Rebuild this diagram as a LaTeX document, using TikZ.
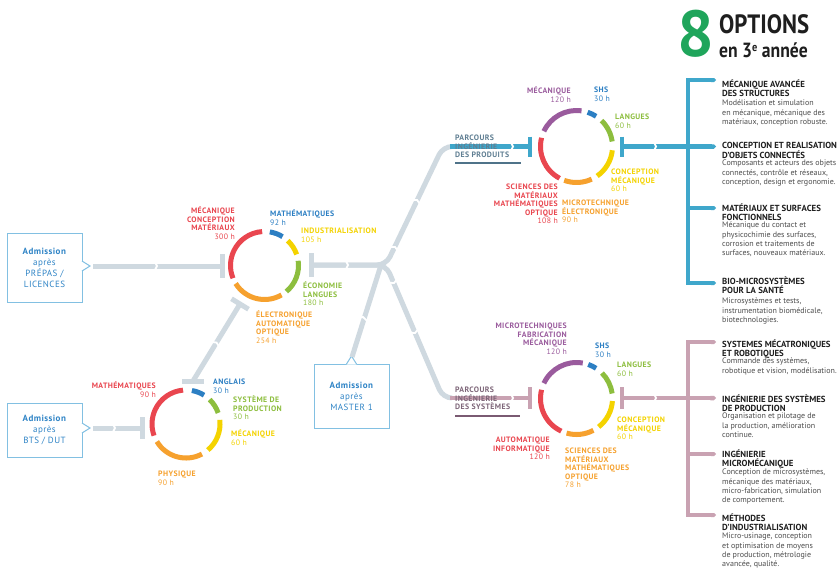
\documentclass[tikz,border=0pt]{standalone}
\usepackage{fontspec}
\setmainfont{PT Sans}
\newfontfamily\headfont[FakeStretch=0.86]{PT Sans}
\newfontfamily\labfont[LetterSpace=5]{PT Sans}
\usetikzlibrary{arrows.meta}
\definecolor{netgrey}{HTML}{CFD9E0}
\definecolor{optblue}{HTML}{3FA7CB}
\definecolor{optmauve}{HTML}{C9A2B2}
\definecolor{cred}{HTML}{E9464F}
\definecolor{corange}{HTML}{F6A12E}
\definecolor{cyellow}{HTML}{F4D300}
\definecolor{cgreen}{HTML}{8DBE3E}
\definecolor{cblue}{HTML}{2C7FC3}
\definecolor{cpurple}{HTML}{9A5B9D}
\definecolor{eightgreen}{HTML}{1FA55B}
\definecolor{admblue}{HTML}{2F84C6}
\definecolor{admborder}{HTML}{82C0E2}
\definecolor{parcblue}{HTML}{5F7E92}
\definecolor{parcmauve}{HTML}{7E6679}
\definecolor{ulblue}{HTML}{4F7389}
\definecolor{ulmauve}{HTML}{7A5A72}
\definecolor{titleblack}{HTML}{1E1E1E}
\definecolor{bodygrey}{HTML}{4D4D4D}
\newcommand\ringseg[5]{\draw[ring,#5] ([shift={({-(#2)}:#4)}]#1) arc[start angle={-(#2)}, end angle={-(#3)}, radius=#4];}
\newcommand\gapcut[2]{\begin{scope}[shift={#1},rotate=#2]\draw[cutline] (-3,-6) -- (0,0) -- (-3,6);\end{scope}}
\newcommand\hrs[1]{{\mdseries #1}}
\begin{document}
\begin{tikzpicture}[x=1pt,y=-1pt,
  net/.style={draw=netgrey,line width=5},
  ring/.style={line width=5},
  cutline/.style={draw=white,line width=1.8},
  lab/.style={inner sep=0,font=\labfont\bfseries\fontsize{7.8}{8.6}\selectfont,execute at begin node=\strut},
  labL/.style={lab,anchor=north west,align=left},
  labR/.style={lab,anchor=north east,align=right},
  opth/.style={inner sep=0,anchor=north west,align=left,text=titleblack,font=\bfseries\fontsize{8.8}{9.8}\selectfont,execute at begin node=\strut},
  optb/.style={inner sep=0,anchor=north west,align=left,text=bodygrey,font=\fontsize{8}{9.2}\selectfont,execute at begin node=\strut},
  adm/.style={draw=admborder,line width=1,fill=white,text=admblue,align=center,minimum width=75,font=\labfont\fontsize{9}{11}\selectfont},
  bluel/.style={draw=optblue,line width=4.5},
  mauvel/.style={draw=optmauve,line width=4.5}
]
\useasboundingbox (0,0) rectangle (840,573);
\fill[white] (0,0) rectangle (840,573);

% ---------- coordinates
\coordinate (cT) at (576.5,146.5);
\coordinate (cB) at (576.5,398.5);
\coordinate (cM) at (264.5,265.5);
\coordinate (cL) at (186,424);
\coordinate (J) at (386,265);
\coordinate (Jm) at (381,265);
\coordinate (cornP) at (443,146.5);
\coordinate (cornS) at (443,398);
\coordinate (endP) at (452,146.5);
\coordinate (endS) at (452,398);
\coordinate (mT) at (311,265);
\coordinate (p1tip) at (93,266);
\coordinate (p1T) at (222,266);
\coordinate (b1tip) at (93,428);
\coordinate (b1T) at (142,428);
\coordinate (m1tip) at (352,357);
\coordinate (dTop) at (240,304);
\coordinate (dBot) at (193,381);
\coordinate (pTin) at (450,146.5);
\coordinate (pTT) at (530,146.5);
\coordinate (pTout) at (622,146.5);
\coordinate (pBin) at (450,398);
\coordinate (pBT) at (530,398);
\coordinate (pBout) at (622,398);

% ---------- admission boxes
\node[adm,minimum height=69] (adm1) at (44.5,267.5) {\textbf{Admission}\\après\\PRÉPAS /\\LICENCES};
\node[adm,minimum height=54] (adm2) at (44.5,430) {\textbf{Admission}\\après\\BTS / DUT};
\node[adm,minimum height=64] (adm3) at (351.5,396) {\textbf{Admission}\\après\\MASTER 1};
\fill[white] (81.4,261) -- (90,266) -- (81.4,271) -- cycle;
\draw[admborder,line width=1] (82,261) -- (90,266) -- (82,271);
\fill[white] (81.4,423) -- (90,428) -- (81.4,433) -- cycle;
\draw[admborder,line width=1] (82,423) -- (90,428) -- (82,433);
\fill[white] (346.5,364.6) -- (351.5,356) -- (356.5,364.6) -- cycle;
\draw[admborder,line width=1] (346.5,364) -- (351.5,356) -- (356.5,364);

% ---------- grey network
\draw[net] (p1tip) -- (p1T);
\draw[net] ([yshift=12]p1T) -- ([yshift=-12]p1T);
\draw[net] (b1tip) -- (b1T);
\draw[net] ([yshift=11]b1T) -- ([yshift=-11]b1T);
\draw[net,rounded corners=9] (mT) -- (J) -- (cornP) -- (endP);
\draw[net,rounded corners=9] (mT) -- (J) -- (cornS) -- (endS);
\draw[net] ([yshift=12]mT) -- ([yshift=-12]mT);
\draw[net] (m1tip) -- (Jm);
\draw[net] (dBot) -- (dTop);
\draw[net] (231.5,298.8) -- (248.5,309.2);
\draw[net] ([xshift=-11]dBot) -- ([xshift=11]dBot);

% ---------- coloured connectors and brackets
\draw[bluel] (pTin) -- (pTT);
\draw[bluel] ([yshift=10]pTT) -- ([yshift=-10]pTT);
\draw[bluel] ([yshift=10]pTout) -- ([yshift=-10]pTout);
\draw[bluel,-{Triangle Cap}] (pTout) -- (716,146.5);
\draw[mauvel] (pBin) -- (pBT);
\draw[mauvel] ([yshift=11]pBT) -- ([yshift=-11]pBT);
\draw[mauvel] ([yshift=11]pBout) -- ([yshift=-11]pBout);
\draw[mauvel,-{Triangle Cap}] (pBout) -- (716,398);

\draw[optblue,line width=4,{Triangle Cap}-{Triangle Cap}] (716,80) -- (688,80) -- (688,283) -- (716,283);
\draw[optblue,line width=4,-{Triangle Cap}] (688,208) -- (716,208);
\draw[optmauve,line width=4,{Triangle Cap}-{Triangle Cap}] (716,342) -- (688,342) -- (688,515) -- (716,515);
\draw[optmauve,line width=4,-{Triangle Cap}] (688,454) -- (716,454);

% ---------- cuts
\gapcut{(157,266)}{0}
\gapcut{(115,428)}{0}
\gapcut{(348,265)}{0}
\gapcut{(513,146.5)}{0}
\gapcut{(513,398)}{0}
\gapcut{(656,146.5)}{0}
\gapcut{(656,398)}{0}
\gapcut{(417,200)}{64.4}
\gapcut{(395,247)}{64.4}
\gapcut{(394,283)}{-66.8}
\gapcut{(415,333)}{-66.8}
\gapcut{(363,317)}{72.3}
\gapcut{(216.5,342.5)}{58.6}

% ---------- underlines
\draw[ulblue,line width=1.5] (455,163) -- (521,163);
\draw[ulmauve,line width=1.5] (455,416) -- (520,416);

% ---------- rings
\ringseg{cT}{82}{155}{36}{cpurple}
\ringseg{cT}{57}{72}{36}{cblue}
\ringseg{cT}{8}{46}{36}{cgreen}
\ringseg{cT}{-55}{-6}{36}{cyellow}
\ringseg{cT}{-110}{-65}{36}{corange}
\ringseg{cT}{166}{242}{36}{cred}

\ringseg{cB}{80}{155}{36}{cpurple}
\ringseg{cB}{57}{71}{36}{cblue}
\ringseg{cB}{8}{45}{36}{cgreen}
\ringseg{cB}{-52}{-4}{36}{cyellow}
\ringseg{cB}{-106}{-62}{36}{corange}
\ringseg{cB}{166}{245}{36}{cred}

\ringseg{cM}{94}{202}{34}{cred}
\ringseg{cM}{58}{81}{34}{cblue}
\ringseg{cM}{19}{47}{34}{cyellow}
\ringseg{cM}{-50}{8}{34}{cgreen}
\ringseg{cM}{212}{300}{34}{corange}

\ringseg{cL}{95}{200}{34}{cred}
\ringseg{cL}{58}{80}{34}{cblue}
\ringseg{cL}{19}{46}{34}{cgreen}
\ringseg{cL}{-50}{7}{34}{cyellow}
\ringseg{cL}{211}{298}{34}{corange}

% ---------- labels: top circle
\node[labR,text=cpurple] (tl1) at (571,86.7) {MÉCANIQUE\\\hrs{120 h}};
\node[labL,text=cblue] (tl2) at (594,86.7) {SHS\\\hrs{30 h}};
\node[labL,text=cgreen] (tl3) at (615,113.7) {LANGUES\\\hrs{60 h}};
\node[labL,text=cyellow] (tl4) at (611,168.7) {CONCEPTION\\MÉCANIQUE\\\hrs{60 h}};
\node[labL,text=corange] (tl5) at (562,199.7) {MICROTECHNIQUE\\ÉLECTRONIQUE\\\hrs{90 h}};
\node[labR,text=cred] (tl6) at (558,183.7) {SCIENCES DES\\MATÉRIAUX\\MATHÉMATIQUES\\OPTIQUE\\\hrs{108 h}};
\node[labL,text=parcblue] (tp) at (455,134.7) {PARCOURS\\INGÉNIERIE\\DES PRODUITS};

% ---------- labels: bottom circle
\node[labR,text=cpurple] (bl1) at (567,322.7) {MICROTECHNIQUES\\FABRICATION\\MÉCANIQUE\\\hrs{120 h}};
\node[labL,text=cblue] (bl2) at (595,342.7) {SHS\\\hrs{30 h}};
\node[labL,text=cgreen] (bl3) at (617,361.7) {LANGUES\\\hrs{60 h}};
\node[labL,text=cyellow] (bl4) at (617,416.7) {CONCEPTION\\MÉCANIQUE\\\hrs{60 h}};
\node[labL,text=corange] (bl5) at (565,447.7) {SCIENCES DES\\MATÉRIAUX\\MATHÉMATIQUES\\OPTIQUE\\\hrs{78 h}};
\node[labR,text=cred] (bl6) at (550,436.7) {AUTOMATIQUE\\INFORMATIQUE\\\hrs{120 h}};
\node[labL,text=parcmauve] (bp) at (455,386.7) {PARCOURS\\INGÉNIERIE\\DES SYSTÈMES};

% ---------- labels: middle-left circle
\node[labR,text=cred] (ml1) at (235,206.7) {MÉCANIQUE\\CONCEPTION\\MATÉRIAUX\\\hrs{300 h}};
\node[labL,text=cblue] (ml2) at (270,209.7) {MATHÉMATIQUES\\\hrs{92 h}};
\node[labL,text=cyellow] (ml3) at (301,227.7) {INDUSTRIALISATION\\\hrs{105 h}};
\node[labL,text=cgreen] (ml4) at (303,281.7) {ÉCONOMIE\\LANGUES\\\hrs{180 h}};
\node[labL,text=corange] (ml5) at (256,310.7) {ÉLECTRONIQUE\\AUTOMATIQUE\\OPTIQUE\\\hrs{254 h}};

% ---------- labels: lower-left circle
\node[labR,text=cred] (ll1) at (156,381.7) {MATHÉMATIQUES\\\hrs{90 h}};
\node[labL,text=cblue] (ll2) at (213,378.7) {ANGLAIS\\\hrs{30 h}};
\node[labL,text=cgreen] (ll3) at (233,395.7) {SYSTÈME DE\\PRODUCTION\\\hrs{30 h}};
\node[labL,text=cyellow] (ll4) at (231,429.7) {MÉCANIQUE\\\hrs{60 h}};
\node[labL,text=corange] (ll5) at (158,470.7) {PHYSIQUE\\\hrs{90 h}};

% ---------- title
\node[anchor=base west,inner sep=0,text=eightgreen,font=\bfseries\fontsize{65}{65}\selectfont] (eight) at (677,56) {8};
\node[anchor=base west,inner sep=0,text=titleblack,font=\headfont\bfseries\fontsize{26.5}{26.5}\selectfont] (opts) at (719,33) {OPTIONS};
\node[anchor=base west,inner sep=0,text=titleblack,font=\headfont\bfseries\fontsize{20.5}{20.5}\selectfont] (annee) at (719,57) {en 3\raisebox{6pt}{\fontsize{12}{12}\selectfont e} année};

% ---------- options
\node[opth] (o1) at (722,79.2) {MÉCANIQUE AVANCÉE\\DES STRUCTURES};
\node[optb] (o1b) at (722,100) {Modélisation et simulation\\en mécanique, mécanique des\\matériaux, conception robuste.};
\node[opth] (o2) at (722,142.2) {CONCEPTION ET REALISATION\\D'OBJETS CONNECTÉS};
\node[optb] (o2b) at (722,160) {Composants et acteurs des objets\\connectés, contrôle et réseaux,\\conception, design et ergonomie.};
\node[opth] (o3) at (722,203.2) {MATÉRIAUX ET SURFACES\\FONCTIONNELS};
\node[optb] (o3b) at (722,222) {Mécanique du contact et\\physicochimie des surfaces,\\corrosion et traitements de\\surfaces, nouveaux matériaux.};
\node[opth] (o4) at (722,276.2) {BIO-MICROSYSTÈMES\\POUR LA SANTÉ};
\node[optb] (o4b) at (722,298) {Microsystèmes et tests,\\instrumentation biomédicale,\\biotechnologies.};
\node[opth] (o5) at (722,339.2) {SYSTEMES MÉCATRONIQUES\\ET ROBOTIQUES};
\node[optb] (o5b) at (722,358) {Commande des systèmes,\\robotique et vision, modélisation.};
\node[opth] (o6) at (722,394.2) {INGÉNIERIE DES SYSTÈMES\\DE PRODUCTION};
\node[optb] (o6b) at (722,413) {Organisation et pilotage de\\la production, amélioration\\continue.};
\node[opth] (o7) at (722,449.2) {INGÉNIERIE\\MICROMÉCANIQUE};
\node[optb] (o7b) at (722,469) {Conception de microsystèmes,\\mécanique des matériaux,\\micro-fabrication, simulation\\de comportement.};
\node[opth] (o8) at (722,513.2) {MÉTHODES\\D'INDUSTRIALISATION};
\node[optb] (o8b) at (722,533) {Micro-usinage, conception\\et optimisation de moyens\\de production, métrologie\\avancée, qualité.};
\end{tikzpicture}
\end{document}
